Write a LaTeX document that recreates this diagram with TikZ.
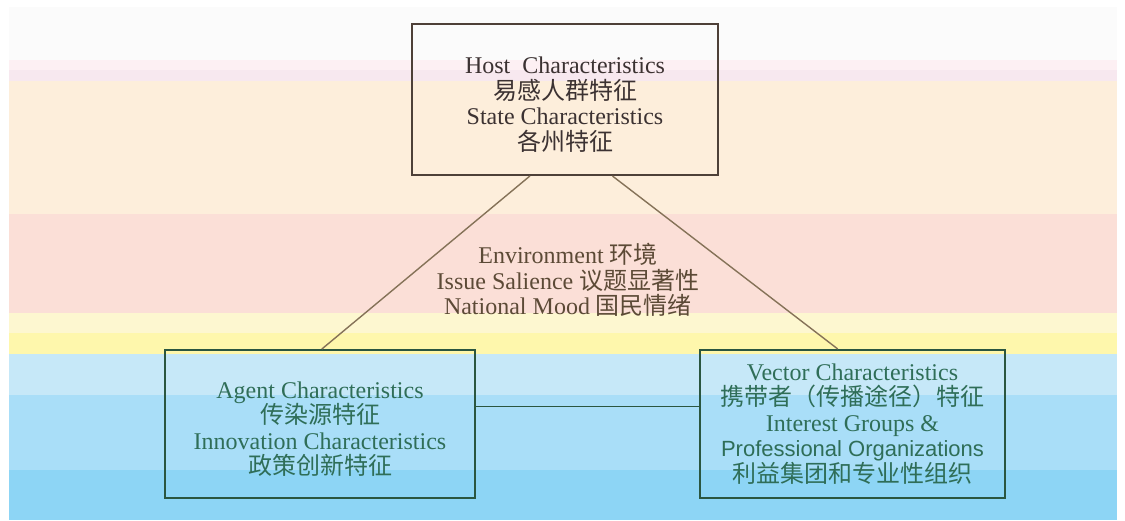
\documentclass[tikz,border=0pt]{standalone}
\usepackage{fontspec}
\setmainfont{Liberation Serif}
\newfontfamily\cjk{Noto Sans CJK SC}
\newfontfamily\sansf{Liberation Sans}
\usetikzlibrary{calc}
\setlength{\lineskiplimit}{-20pt}
\definecolor{bgW}{HTML}{FBFBFB}
\definecolor{bgPa}{HTML}{FDF0F3}
\definecolor{bgPb}{HTML}{F7E8EF}
\definecolor{bgPeach}{HTML}{FDEEDB}
\definecolor{bgSalmon}{HTML}{FBDFD7}
\definecolor{bgPY}{HTML}{FDF7D0}
\definecolor{bgY}{HTML}{FEF7AC}
\definecolor{bgLB}{HTML}{C6E8F8}
\definecolor{bgB}{HTML}{A9DEF8}
\definecolor{bgDB}{HTML}{8DD5F5}
\definecolor{hostLine}{HTML}{4E4038}
\definecolor{hostText}{HTML}{3C3232}
\definecolor{envText}{HTML}{5C4A36}
\definecolor{diagLine}{HTML}{857258}
\definecolor{boxLine}{HTML}{2A5640}
\definecolor{boxText}{HTML}{2F6E58}
\tikzset{
  bigfont/.style={font=\fontsize{24}{25.5}\selectfont},
  hostbox/.style={draw=hostLine, line width=2pt, text=hostText, align=center, bigfont, inner sep=0pt},
  lowbox/.style={draw=boxLine, line width=2pt, text=boxText, align=center, bigfont, inner sep=0pt},
  envlabel/.style={text=envText, align=center, bigfont, inner sep=0pt},
  diagconn/.style={draw=diagLine, line width=1.4pt},
  hconn/.style={draw=boxLine, line width=1.4pt}
}
\begin{document}
\begin{tikzpicture}[x=1pt,y=-1pt]
\useasboundingbox (0,0) rectangle (1125,520);
\fill[white] (0,0) rectangle (1125,520);
% background bands
\fill[bgW] (9,7) rectangle (1117,60);
\fill[bgPa] (9,60) rectangle (1117,70);
\fill[bgPb] (9,70) rectangle (1117,81);
\fill[bgPeach] (9,81) rectangle (1117,214);
\fill[bgSalmon] (9,214) rectangle (1117,313);
\fill[bgPY] (9,313) rectangle (1117,333);
\fill[bgY] (9,333) rectangle (1117,354);
\fill[bgLB] (9,354) rectangle (1117,395);
\fill[bgB] (9,395) rectangle (1117,470);
\fill[bgDB] (9,470) rectangle (1117,520);
% boxes
\node[hostbox, minimum width=306pt, minimum height=151pt] (host) at (565,99.5)
  {\rule{0pt}{27pt}Host\ \ Characteristics\\{\cjk 易感人群特征}\\State Characteristics\\{\cjk 各州特征}};
\node[lowbox, minimum width=310pt, minimum height=148pt] (agent) at (320,424)
  {\rule{0pt}{27pt}Agent Characteristics\\{\cjk 传染源特征}\\Innovation Characteristics\\{\cjk 政策创新特征}};
\node[lowbox, minimum width=305pt, minimum height=148pt] (vector) at (852.5,424)
  {Vector Characteristics\\{\cjk 携带者（传播途径）特征}\\Interest Groups \&\\{\sansf\fontsize{22}{25}\selectfont Professional Organizations}\\{\cjk 利益集团和专业性组织}};
\node[envlabel] (env) at (568,280)
  {Environment {\cjk 环境}\\Issue Salience {\cjk 议题显著性}\\National Mood {\cjk 国民情绪}};
% connectors
\draw[diagconn] ($(host.south west)!0.386!(host.south east)$) -- ($(agent.north west)!0.506!(agent.north east)$);
\draw[diagconn] ($(host.south west)!0.654!(host.south east)$) -- ($(vector.north west)!0.452!(vector.north east)$);
\draw[hconn] ($(agent.north east)!0.385!(agent.south east)$) -- ($(vector.north west)!0.385!(vector.south west)$);
\end{tikzpicture}
\end{document}
